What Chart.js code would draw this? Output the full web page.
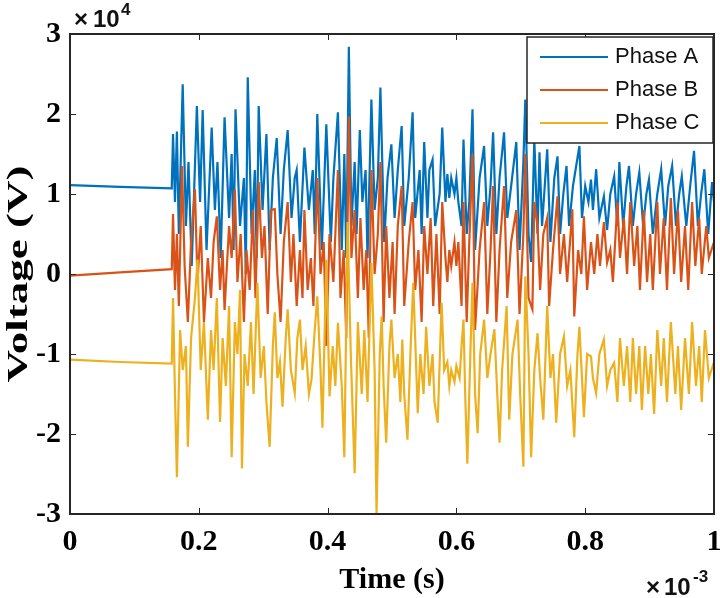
<!DOCTYPE html>
<html>
<head>
<meta charset="utf-8">
<title>Three-phase voltage</title>
<script src="https://cdn.jsdelivr.net/npm/chart.js@4.4.0/dist/chart.umd.min.js"></script>
<style>
  html, body { margin: 0; padding: 0; background: #fff; }
</style>
</head>
<body>
<canvas id="voltChart" width="720" height="598"></canvas>
<script>
// time in microseconds (axis shows x10^-3 s), voltage in units of 1e4 V (axis shows x10^4)
const timeA = [
  0, 78, 158, 160, 163, 166, 169, 175, 180, 184,
  189, 197, 202, 206, 212, 220, 225, 229, 234, 240,
  247, 251, 254, 257, 264, 270, 273, 276, 282, 287,
  290, 293, 299, 305, 310, 315, 321, 327, 332, 338,
  344, 349, 352, 357, 364, 371, 377, 380, 384, 391,
  398, 405, 409, 416, 422, 426, 429, 433, 437, 442,
  445, 450, 454, 459, 462, 468, 473, 478, 482, 488,
  493, 499, 504, 509, 515, 519, 526, 532, 536, 543,
  546, 550, 555, 558, 563, 567, 574, 578, 583, 586,
  589, 592, 597, 600, 603, 608, 611, 616, 620, 625,
  629, 636, 643, 648, 653, 657, 662, 667, 674, 679,
  685, 693, 698, 704, 707, 712, 716, 721, 726, 729,
  733, 741, 746, 752, 757, 761, 766, 771, 775, 781,
  791, 795, 800, 805, 809, 812, 817, 822, 829, 834,
  839, 845, 850, 853, 859, 864, 868, 874, 879, 884,
  890, 895, 899, 905, 912, 918, 924, 929, 935, 941,
  946, 950, 957, 963, 969, 975, 980, 985, 991, 997,
  1000
];
const voltA = [
  1.11, 1.09, 1.07, 1.75, 0.9, 1.78, 0.5, 2.37, 0.6, 1.4,
  0.1, 2.1, 0.9, 2.05, 0.3, 1.83, 0.8, 1.4, 0.2, 1.96,
  0.7, 1.5, 0.3, 2.06, 0.6, 1.2, 0.0, 2.46, 0.5, 1.3,
  0.2, 2.1, 0.8, 1.75, 0.3, 1.2, 1.7, 0.5, 1.3, 1.8,
  0.7, 1.2, 1.3, 0.4, 1.58, 0.8, 1.3, 0.5, 2.0, 0.3,
  1.87, 0.4, 1.2, 2.02, 0.3, 1.5, 0.2, 2.84, 0.6, 1.4,
  0.5, 1.8, 0.9, 1.3, 0.2, 2.18, 0.8, 1.2, 2.33, 0.4,
  1.2, 1.62, 0.7, 1.3, 1.85, 0.6, 1.2, 2.02, 0.7, 1.3,
  0.5, 1.65, 0.7, 1.3, 1.43, 0.6, 1.0, 1.83, 0.9, 1.25,
  0.95, 1.2, 1.0, 1.2, 0.9, 0.6, 1.68, 0.5, 0.9, 2.06,
  0.3, 1.2, 1.6, 0.6, 1.1, 1.77, 0.5, 1.2, 1.77, 0.7,
  1.1, 1.65, 0.3, 1.4, 2.18, 0.5, 0.15, 1.68, 0.5, 1.52,
  0.6, 1.56, 0.4, 1.2, 1.47, 0.5, 1.0, 1.35, 0.6, 1.1,
  1.6, 0.7, 1.1, 0.9, 1.18, 0.8, 1.31, 0.7, 0.97, 0.55,
  1.0, 1.22, 0.6, 1.4, 0.6, 1.1, 1.35, 0.6, 1.0, 1.27,
  0.6, 1.0, 1.18, 0.5, 1.0, 1.31, 0.6, 1.1, 1.35, 0.6,
  1.0, 1.22, 0.6, 1.1, 1.54, 0.6, 1.0, 1.31, 0.5, 1.15,
  0.9
];

const timeB = [
  0, 78, 158, 160, 163, 166, 169, 174, 178, 183,
  188, 194, 198, 203, 208, 214, 219, 223, 228, 233,
  237, 240, 247, 251, 256, 260, 265, 270, 274, 279,
  284, 288, 293, 298, 302, 307, 312, 318, 322, 327,
  332, 338, 343, 347, 352, 357, 361, 364, 369, 374,
  378, 384, 389, 394, 398, 403, 409, 416, 420, 425,
  429, 433, 437, 442, 447, 451, 456, 460, 464, 468,
  473, 478, 482, 487, 491, 496, 501, 504, 509, 515,
  519, 526, 532, 536, 541, 546, 550, 555, 560, 564,
  569, 574, 578, 583, 586, 589, 592, 597, 600, 603,
  608, 611, 616, 620, 625, 629, 636, 643, 648, 653,
  657, 662, 667, 674, 679, 685, 693, 698, 704, 707,
  712, 718, 721, 726, 730, 735, 741, 744, 750, 757,
  761, 767, 772, 780, 783, 789, 794, 798, 803, 809,
  814, 819, 823, 829, 834, 839, 843, 850, 854, 860,
  865, 870, 876, 881, 885, 891, 896, 901, 905, 912,
  916, 922, 927, 933, 938, 944, 949, 955, 960, 966,
  971, 977, 981, 988, 992, 1000
];
const voltB = [
  -0.02, 0.02, 0.06, 0.75, -0.2, 0.5, -0.4, 1.35, 0.1, -0.6,
  0.4, 1.06, -0.1, 0.6, -0.6, 0.2, -0.3, 0.4, 0.72, -0.2,
  0.3, -0.45, 0.6, 0.2, 1.06, -0.1, 0.5, -0.6, 0.3, -0.2,
  0.8, -0.3, 1.15, 0.2, 0.6, -0.5, 0.8, 0.81, 0.0, -0.6,
  0.4, 0.9, -0.1, 0.5, -0.4, 0.3, -0.3, 0.8, -0.2, 0.2,
  -0.4, 1.2, 0.0, 0.4, -0.9, 0.5, -0.1, 1.3, -0.3, 0.3,
  -0.8, 1.97, 0.2, 0.8, -0.3, 0.7, -0.2, 0.3, -0.8, 1.3,
  0.0, 0.5, 1.4, -0.6, 0.6, -0.3, 0.4, -0.5, 0.6, 1.1,
  -0.4, 0.4, 0.9, -0.2, 0.3, -0.6, 0.6, 0.0, 0.7, -0.4,
  0.5, -0.5, 0.9, 0.2, -0.1, 0.3, 0.1, 0.4, 0.1, 0.4,
  -0.4, 0.9, -0.6, 0.4, 1.5, -0.7, 0.3, 0.9, -0.5, 0.3,
  1.1, -0.6, 0.3, 1.1, -0.3, 0.4, 0.8, -0.5, 0.5, 1.5,
  -0.3, -0.44, 0.9, 0.6, -0.2, 0.5, 0.7, -0.4, 0.3, 0.97,
  0.0, 0.5, -0.1, 0.81, -0.53, 0.3, 0.0, 0.72, -0.2, 0.4,
  0.0, 0.5, 0.1, 0.65, 0.14, 0.3, -0.1, 0.9, 0.2, 0.7,
  0.0, 0.9, 0.1, 0.6, -0.2, 0.8, -0.1, 0.5, -0.2, 0.9,
  0.0, 0.7, -0.2, 0.95, 0.0, 0.8, -0.1, 0.6, -0.2, 0.9,
  0.1, 0.7, 0.0, 0.6, 0.2, 0.4
];

const timeC = [
  0, 78, 158, 160, 163, 166, 171, 175, 180, 183,
  188, 194, 198, 203, 208, 214, 219, 223, 228, 233,
  237, 242, 247, 251, 256, 260, 264, 267, 271, 276,
  281, 285, 291, 296, 301, 305, 310, 315, 318, 322,
  326, 330, 335, 338, 343, 349, 353, 357, 361, 366,
  371, 375, 380, 384, 389, 392, 398, 403, 408, 412,
  416, 422, 426, 431, 436, 442, 447, 453, 457, 462,
  468, 473, 476, 481, 484, 487, 491, 496, 499, 504,
  509, 513, 516, 519, 524, 529, 533, 540, 544, 549,
  553, 558, 563, 566, 571, 577, 581, 586, 589, 592,
  597, 600, 605, 608, 611, 614, 617, 622, 625, 629,
  633, 637, 643, 648, 653, 659, 664, 667, 671, 678,
  682, 687, 695, 699, 704, 707, 712, 716, 721, 726,
  730, 735, 741, 746, 750, 755, 761, 767, 772, 777,
  783, 788, 791, 795, 798, 803, 809, 812, 817, 822,
  829, 834, 839, 845, 850, 854, 860, 865, 870, 874,
  879, 884, 888, 893, 898, 902, 907, 912, 918, 922,
  927, 933, 940, 944, 949, 955, 961, 966, 972, 977,
  981, 986, 992, 1000
];
const voltC = [
  -1.07, -1.10, -1.12, -0.3, -1.5, -2.54, -0.7, -1.2, -0.9, -2.16,
  -0.8, -0.3, 0.18, -1.2, -0.6, -1.82, -0.7, -1.2, -0.3, -1.85,
  -0.8, -1.4, -0.4, -2.29, -0.6, -1.0, -0.2, -2.43, -1.0, -1.4,
  -0.6, -1.5, -0.11, -1.3, -0.9, -1.6, -2.16, -0.9, -0.48, -1.3,
  -1.1, -1.66, -0.8, -0.44, -1.2, -1.49, -0.8, -0.57, -1.2, -0.9,
  -1.5, -1.32, -0.7, -0.28, -1.2, -1.92, 0.18, -1.53, -0.9, -1.4,
  -0.61, -1.4, -2.29, 0.65, -1.0, -2.49, -0.6, -1.5, -0.7, -1.6,
  0.14, -1.2, -3.0, -1.0, -0.53, -1.4, -2.11, -0.9, -0.57, -1.3,
  -1.0, -1.6, -0.82, -1.5, -2.07, -0.9, -0.11, -1.74, -1.0, -1.5,
  -0.66, -1.4, -1.0, -1.6, -1.86, -0.36, -1.2, -1.1, -1.4, -1.2,
  -1.35, -1.15, -1.3, -0.9, -0.57, -1.6, -2.37, -0.9, -0.11, -1.5,
  -1.99, -1.0, -0.57, -1.3, -1.0, -0.69, -1.6, -2.11, -1.2, -0.4,
  -1.82, -1.0, -0.57, -1.5, -2.41, -0.03, -1.0, -2.29, -1.2, -0.74,
  -1.3, -1.82, -0.4, -1.3, -1.0, -1.86, -1.0, -0.78, -1.4, -1.2,
  -2.04, -1.0, -0.66, -1.3, -1.79, -1.0, -1.03, -1.3, -1.49, -1.0,
  -0.82, -1.4, -1.2, -1.11, -1.6, -0.8, -1.4, -0.9, -1.6, -0.8,
  -1.5, -0.9, -1.7, -0.9, -1.5, -1.0, -1.75, -0.7, -1.4, -0.8,
  -1.6, -0.6, -1.5, -0.9, -1.7, -0.8, -1.5, -0.6, -1.4, -0.9,
  -1.6, -0.7, -1.3, -1.1
];

const seriesNames = ['Phase A', 'Phase B', 'Phase C'];
const seriesColors = ['#0072BD', '#D95319', '#EDB120'];
const xTickStep = 200;   // 0.2 x10^-3 s
const yTickStep = 1;     // 1 x10^4 V

const serif = "'Liberation Serif', 'Times New Roman', serif";
const sans = "'Liberation Sans', Arial, sans-serif";

function toPoints(t, v) {
    return t.map((x, i) => ({ x: x, y: v[i] }));
}

// box, inward ticks (MATLAB style)
const axesFrame = {
    id: 'axesFrame',
    afterDatasetsDraw(chart) {
        const { ctx, chartArea: a, scales } = chart;
        ctx.save();
        ctx.strokeStyle = '#262626';
        ctx.lineWidth = 1;
        ctx.beginPath();
        scales.x.ticks.forEach(t => {
            const px = Math.round(scales.x.getPixelForValue(t.value)) + 0.5;
            ctx.moveTo(px, a.bottom); ctx.lineTo(px, a.bottom - 6);
            ctx.moveTo(px, a.top); ctx.lineTo(px, a.top + 6);
        });
        scales.y.ticks.forEach(t => {
            const py = Math.round(scales.y.getPixelForValue(t.value)) + 0.5;
            ctx.moveTo(a.left, py); ctx.lineTo(a.left + 6, py);
            ctx.moveTo(a.right, py); ctx.lineTo(a.right - 6, py);
        });
        ctx.stroke();
        ctx.lineWidth = 2;
        ctx.strokeRect(a.left, a.top, a.right - a.left, a.bottom - a.top);
        ctx.restore();
    }
};

// legend box inside the axes, exponent labels, stretched y title
const extras = {
    id: 'extras',
    afterDraw(chart) {
        const { ctx, chartArea: a } = chart;
        ctx.save();

        // legend
        const w = 186, h = 106;
        const x0 = a.right - w - 1, y0 = a.top + 3;
        ctx.fillStyle = '#fff';
        ctx.fillRect(x0, y0, w, h);
        ctx.strokeStyle = '#262626';
        ctx.lineWidth = 1.5;
        ctx.strokeRect(x0, y0, w, h);
        ctx.font = '22px ' + sans;
        ctx.textBaseline = 'middle';
        ctx.textAlign = 'left';
        chart.data.datasets.forEach((ds, i) => {
            const y = y0 + 20 + i * 33;
            ctx.strokeStyle = ds.borderColor;
            ctx.lineWidth = 2;
            ctx.beginPath();
            ctx.moveTo(x0 + 13, y); ctx.lineTo(x0 + 81, y);
            ctx.stroke();
            ctx.fillStyle = '#111';
            ctx.fillText(ds.label, x0 + 88, y);
        });

        // x10^4 above the y axis
        ctx.fillStyle = '#111';
        ctx.textBaseline = 'alphabetic';
        ctx.font = 'bold 24px ' + sans;
        ctx.fillText('\u00d7', 74, 27);
        ctx.fillText('10', 93, 27);
        ctx.font = 'bold 17px ' + sans;
        ctx.fillText('4', 121, 15);

        // x10^-3 under the x axis end
        ctx.font = 'bold 24px ' + sans;
        ctx.fillText('\u00d7', 646, 595);
        ctx.fillText('10', 664, 595);
        ctx.font = 'bold 17px ' + sans;
        ctx.fillText('-3', 693, 582);

        // y axis title
        ctx.translate(19, (a.top + a.bottom) / 2);
        ctx.rotate(-Math.PI / 2);
        ctx.scale(1.5, 1);
        ctx.font = 'bold 30px ' + serif;
        ctx.textAlign = 'center';
        ctx.textBaseline = 'middle';
        ctx.fillStyle = '#000';
        ctx.fillText('Voltage (V)', 0, 0);
        ctx.restore();
    }
};

document.addEventListener('DOMContentLoaded', () => {
    const ctx = document.getElementById('voltChart');
    const series = [[timeA, voltA], [timeB, voltB], [timeC, voltC]];
    new Chart(ctx, {
        type: 'line',
        data: {
            datasets: series.map((s, i) => ({
                label: seriesNames[i],
                data: toPoints(s[0], s[1]),
                borderColor: seriesColors[i],
                borderWidth: 2.2,
                pointRadius: 0,
                tension: 0,
                fill: false,
                order: 2 - i      // Phase C drawn on top, like MATLAB
            }))
        },
        options: {
            responsive: false,
            animation: false,
            devicePixelRatio: 1,
            layout: { padding: { top: 34, right: 6, left: 0, bottom: 0 } },
            plugins: {
                legend: { display: false },
                tooltip: { enabled: false }
            },
            scales: {
                x: {
                    type: 'linear',
                    min: 0,
                    max: 1000,
                    grid: { display: false, drawTicks: false },
                    border: { display: false },
                    ticks: {
                        stepSize: xTickStep,
                        autoSkip: false,
                        maxRotation: 0,
                        padding: 10,
                        color: '#000',
                        font: { family: serif, size: 30, weight: 'bold' },
                        callback: v => String(v / 1000)
                    },
                    title: {
                        display: true,
                        text: 'Time (s)',
                        color: '#000',
                        padding: 0,
                        font: { family: serif, size: 30, weight: 'bold' }
                    },
                    afterFit(s) { s.height = 84; s.paddingLeft = 0; s.paddingRight = 0; }
                },
                y: {
                    min: -3,
                    max: 3,
                    grid: { display: false, drawTicks: false },
                    border: { display: false },
                    ticks: {
                        stepSize: yTickStep,
                        padding: 9,
                        color: '#000',
                        font: { family: serif, size: 30, weight: 'bold' }
                    },
                    afterFit(s) { s.width = 70; s.paddingTop = 0; s.paddingBottom = 0; }
                }
            }
        },
        plugins: [axesFrame, extras]
    });
});
</script>
</body>
</html>
